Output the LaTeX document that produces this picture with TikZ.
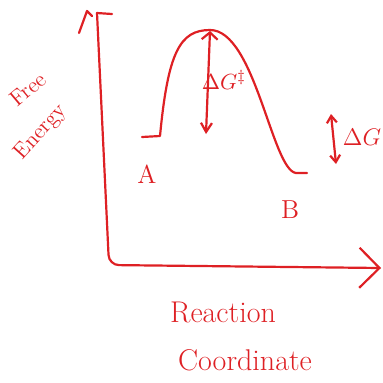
\documentclass[tikz,border=0pt]{standalone}
\usepackage{amsmath,amssymb}
\usepackage{tikz}
\usetikzlibrary{arrows.meta, positioning, calc}
\usepackage{xcolor}
\definecolor{penred}{RGB}{222,32,36}

\tikzset{
  pen/.style={penred, line width=1.1pt, line cap=round, line join=round},
  hand/.style={text=penred, inner sep=0pt, font=\fontsize{13}{15}\selectfont},
}

\begin{document}
\begin{tikzpicture}[x=0.5pt, y=0.5pt]
  \useasboundingbox (0,0) rectangle (383,382);
  % axes
  \coordinate (ytop) at (97,369);
  \coordinate (corner) at (109,117);
  \coordinate (xend) at (381,114);
  \draw[pen] (79,349) -- (87,371) -- (92,366);
  \draw[pen] (ytop) -- (112,368);
  \draw[pen, rounded corners=5pt, -{Straight Barb[length=10pt, width=20pt]}] (ytop) -- (corner) -- (xend);
  % energy curve
  \coordinate (a1) at (142,245);
  \coordinate (a2) at (160,246);
  \coordinate (peak) at (210,352);
  \coordinate (b1) at (296,209);
  \coordinate (b2) at (307,209);
  \draw[pen] (a1) -- (a2) .. controls (168,330) and (180,352) .. (peak)
    .. controls (255,352) and (272,212) .. (b1) -- (b2);
  % barrier and overall change
  \coordinate (tstop) at (210,351);
  \coordinate (tsbot) at (206,248);
  \draw[pen, {Straight Barb[length=3.5pt, width=8pt]}-{Straight Barb[length=4.5pt, width=5.5pt]}] (tstop) -- (tsbot);
  \node[hand, font=\fontsize{11}{13}\selectfont] (dGts) at (224,302) {$\Delta G^{\ddagger}$};
  \coordinate (dgtop) at (331,268);
  \coordinate (dgbot) at (336,218);
  \draw[pen, {Straight Barb[length=3.5pt, width=5pt]}-{Straight Barb[length=3.5pt, width=5pt]}] (dgtop) -- (dgbot);
  \node[hand, font=\fontsize{12}{14}\selectfont] (dG) at (362,245) {$\Delta G$};
  % labels
  \node[hand] (lblA) at (147,208) {A};
  \node[hand] (lblB) at (290,172) {B};
  \node[hand, rotate=40, font=\fontsize{11}{13}\selectfont] (freetxt) at (28,293) {Free};
  \node[hand, rotate=48, font=\fontsize{11}{13}\selectfont] (energytxt) at (41,250) {Energy};
  \node[hand, font=\fontsize{15}{17}\selectfont] (xlab1) at (223,70) {Reaction};
  \node[hand, font=\fontsize{15}{17}\selectfont] (xlab2) at (245,22) {Coordinate};
\end{tikzpicture}
\end{document}
